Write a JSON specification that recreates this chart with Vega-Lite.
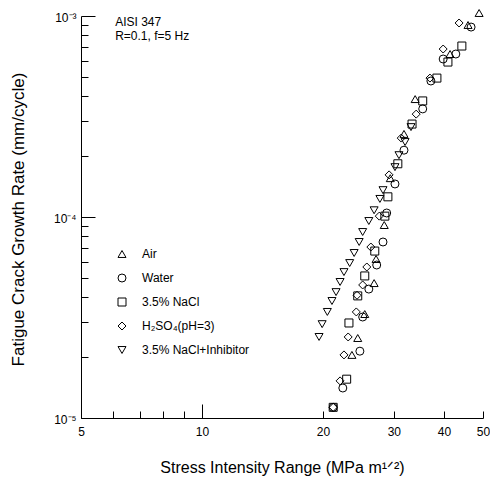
{
  "$schema": "https://vega.github.io/schema/vega-lite/v6.json",
  "width": 402,
  "height": 402,
  "autosize": "none",
  "padding": {"left": 81, "top": 16, "right": 7, "bottom": 59},
  "background": "white",
  "config": {
    "font": "Liberation Sans",
    "view": {"stroke": null},
    "axis": {"grid": false, "domainColor": "black", "tickColor": "black", "labelColor": "black", "titleColor": "black", "titleFontWeight": "normal", "domainWidth": 1, "tickWidth": 1}
  },
  "layer": [
    {
      "data": {
        "values": [
          {"env": "Air", "K": 48.9, "rate": 0.001035},
          {"env": "Air", "K": 45.9, "rate": 0.000902},
          {"env": "Air", "K": 41.4, "rate": 0.000647},
          {"env": "Air", "K": 33.9, "rate": 0.000386},
          {"env": "Air", "K": 31.8, "rate": 0.000259},
          {"env": "Air", "K": 29.4, "rate": 0.000156},
          {"env": "Air", "K": 28.4, "rate": 0.0000912},
          {"env": "Air", "K": 27.1, "rate": 0.0000618},
          {"env": "Air", "K": 26.8, "rate": 0.0000469},
          {"env": "Air", "K": 25.4, "rate": 0.0000329},
          {"env": "Air", "K": 24.4, "rate": 0.000025},
          {"env": "Air", "K": 23.6, "rate": 0.0000206},
          {"env": "Water", "K": 46.7, "rate": 0.000881},
          {"env": "Water", "K": 42.8, "rate": 0.000647},
          {"env": "Water", "K": 39.8, "rate": 0.000611},
          {"env": "Water", "K": 37.1, "rate": 0.000475},
          {"env": "Water", "K": 35.4, "rate": 0.000345},
          {"env": "Water", "K": 31.8, "rate": 0.000215},
          {"env": "Water", "K": 30.2, "rate": 0.000146},
          {"env": "Water", "K": 28.8, "rate": 0.0001047},
          {"env": "Water", "K": 28.2, "rate": 0.0000751},
          {"env": "Water", "K": 27.2, "rate": 0.0000577},
          {"env": "Water", "K": 26.0, "rate": 0.0000438},
          {"env": "Water", "K": 25.1, "rate": 0.0000318},
          {"env": "Water", "K": 24.7, "rate": 0.0000215},
          {"env": "Water", "K": 22.4, "rate": 0.0000141},
          {"env": "Water", "K": 21.2, "rate": 0.0000113},
          {"env": "3.5% NaCl", "K": 44.3, "rate": 0.000709},
          {"env": "3.5% NaCl", "K": 40.9, "rate": 0.00059},
          {"env": "3.5% NaCl", "K": 38.4, "rate": 0.000491},
          {"env": "3.5% NaCl", "K": 35.4, "rate": 0.000378},
          {"env": "3.5% NaCl", "K": 33.3, "rate": 0.00029},
          {"env": "3.5% NaCl", "K": 30.7, "rate": 0.000184},
          {"env": "3.5% NaCl", "K": 29.0, "rate": 0.000126},
          {"env": "3.5% NaCl", "K": 28.5, "rate": 0.000101},
          {"env": "3.5% NaCl", "K": 26.9, "rate": 0.0000677},
          {"env": "3.5% NaCl", "K": 25.4, "rate": 0.0000509},
          {"env": "3.5% NaCl", "K": 24.4, "rate": 0.0000405},
          {"env": "3.5% NaCl", "K": 23.2, "rate": 0.0000297},
          {"env": "3.5% NaCl", "K": 22.9, "rate": 0.0000156},
          {"env": "3.5% NaCl", "K": 21.2, "rate": 0.0000113},
          {"env": "H₂SO₄(pH=3)", "K": 43.6, "rate": 0.000923},
          {"env": "H₂SO₄(pH=3)", "K": 39.8, "rate": 0.000685},
          {"env": "H₂SO₄(pH=3)", "K": 36.9, "rate": 0.000491},
          {"env": "H₂SO₄(pH=3)", "K": 34.1, "rate": 0.000325},
          {"env": "H₂SO₄(pH=3)", "K": 31.3, "rate": 0.000247},
          {"env": "H₂SO₄(pH=3)", "K": 29.2, "rate": 0.000162},
          {"env": "H₂SO₄(pH=3)", "K": 27.6, "rate": 0.000101},
          {"env": "H₂SO₄(pH=3)", "K": 26.3, "rate": 0.0000709},
          {"env": "H₂SO₄(pH=3)", "K": 25.7, "rate": 0.0000564},
          {"env": "H₂SO₄(pH=3)", "K": 25.1, "rate": 0.0000459},
          {"env": "H₂SO₄(pH=3)", "K": 24.3, "rate": 0.0000408},
          {"env": "H₂SO₄(pH=3)", "K": 24.2, "rate": 0.0000337},
          {"env": "H₂SO₄(pH=3)", "K": 23.1, "rate": 0.0000253},
          {"env": "H₂SO₄(pH=3)", "K": 22.55, "rate": 0.0000206},
          {"env": "H₂SO₄(pH=3)", "K": 22.05, "rate": 0.0000153},
          {"env": "H₂SO₄(pH=3)", "K": 21.2, "rate": 0.0000113},
          {"env": "3.5% NaCl+Inhibitor", "K": 33.1, "rate": 0.00028},
          {"env": "3.5% NaCl+Inhibitor", "K": 32.0, "rate": 0.000236},
          {"env": "3.5% NaCl+Inhibitor", "K": 30.9, "rate": 0.000203},
          {"env": "3.5% NaCl+Inhibitor", "K": 30.2, "rate": 0.000177},
          {"env": "3.5% NaCl+Inhibitor", "K": 28.2, "rate": 0.000136},
          {"env": "3.5% NaCl+Inhibitor", "K": 27.7, "rate": 0.000123},
          {"env": "3.5% NaCl+Inhibitor", "K": 26.8, "rate": 0.000108},
          {"env": "3.5% NaCl+Inhibitor", "K": 26.0, "rate": 0.0000955},
          {"env": "3.5% NaCl+Inhibitor", "K": 25.1, "rate": 0.0000842},
          {"env": "3.5% NaCl+Inhibitor", "K": 24.6, "rate": 0.0000751},
          {"env": "3.5% NaCl+Inhibitor", "K": 23.9, "rate": 0.0000662},
          {"env": "3.5% NaCl+Inhibitor", "K": 23.3, "rate": 0.000059},
          {"env": "3.5% NaCl+Inhibitor", "K": 22.55, "rate": 0.0000532},
          {"env": "3.5% NaCl+Inhibitor", "K": 22.05, "rate": 0.0000475},
          {"env": "3.5% NaCl+Inhibitor", "K": 21.55, "rate": 0.0000423},
          {"env": "3.5% NaCl+Inhibitor", "K": 21.05, "rate": 0.0000382},
          {"env": "3.5% NaCl+Inhibitor", "K": 20.5, "rate": 0.0000337},
          {"env": "3.5% NaCl+Inhibitor", "K": 19.9, "rate": 0.0000293},
          {"env": "3.5% NaCl+Inhibitor", "K": 19.55, "rate": 0.0000253}
        ]
      },
      "mark": {"type": "point", "filled": false, "stroke": "black", "strokeWidth": 1, "size": 64, "opacity": 1},
      "encoding": {
        "x": {
          "field": "K", "type": "quantitative",
          "scale": {"type": "log", "domain": [5, 50], "nice": false},
          "axis": {
            "title": "Stress Intensity Range (MPa m¹ᐟ²)",
            "values": [5, 6, 7, 8, 9, 10, 20, 30, 40, 50],
            "labelExpr": "datum.value >= 6 && datum.value <= 9 ? '' : '' + datum.value",
            "tickSize": {"condition": {"test": "datum.value == 10", "value": -14}, "value": -7},
            "labelPadding": {"condition": {"test": "datum.value == 10", "value": 22}, "value": 15},
            "labelFontSize": 12,
            "labelFlush": false,
            "titleFontSize": 16,
            "titleBaseline": "middle",
            "titleY": 49
          }
        },
        "y": {
          "field": "rate", "type": "quantitative",
          "scale": {"type": "log", "domain": [0.00001, 0.001], "nice": false},
          "axis": {
            "title": "Fatigue Crack Growth Rate (mm/cycle)",
            "values": [0.00001, 0.00002, 0.00003, 0.00004, 0.00005, 0.00006, 0.00007, 0.00008, 0.00009, 0.0001, 0.0002, 0.0003, 0.0004, 0.0005, 0.0006, 0.0007, 0.0008, 0.0009, 0.001],
            "labelExpr": "datum.value == 0.001 ? '10⁻³' : datum.value == 0.0001 ? '10⁻⁴' : datum.value == 0.00001 ? '10⁻⁵' : ''",
            "tickSize": {"condition": {"test": "datum.value == 0.001 || datum.value == 0.0001", "value": -14}, "value": -7},
            "labelPadding": {"condition": {"test": "datum.value == 0.001 || datum.value == 0.0001", "value": 19}, "value": 12},
            "labelFontSize": 12,
            "labelBaseline": "top",
            "labelOffset": -4,
            "labelFlush": false,
            "titleFontSize": 17,
            "titleAngle": -90,
            "titleAlign": "center",
            "titleBaseline": "middle",
            "titleX": -63,
            "titleY": 203
          }
        },
        "shape": {
          "field": "env", "type": "nominal",
          "scale": {
            "domain": ["Air", "Water", "3.5% NaCl", "H₂SO₄(pH=3)", "3.5% NaCl+Inhibitor"],
            "range": ["triangle-up", "circle", "square", "diamond", "triangle-down"]
          },
          "legend": {
            "orient": "none", "legendX": 35, "legendY": 232, "title": null,
            "labelFontSize": 12, "labelColor": "black", "symbolSize": 64,
            "symbolStrokeColor": "black", "symbolFillColor": "transparent", "symbolStrokeWidth": 1,
            "labelOffset": 14, "rowPadding": 12, "padding": 0
          }
        }
      }
    },
    {
      "data": {"values": [{"K": 6.08, "rate": 0.000989, "label": "AISI 347\nR=0.1, f=5 Hz"}]},
      "mark": {"type": "text", "align": "left", "baseline": "top", "lineBreak": "\n", "fontSize": 12, "lineHeight": 14, "color": "black"},
      "encoding": {
        "x": {"field": "K", "type": "quantitative"},
        "y": {"field": "rate", "type": "quantitative"},
        "text": {"field": "label"}
      }
    }
  ]
}
